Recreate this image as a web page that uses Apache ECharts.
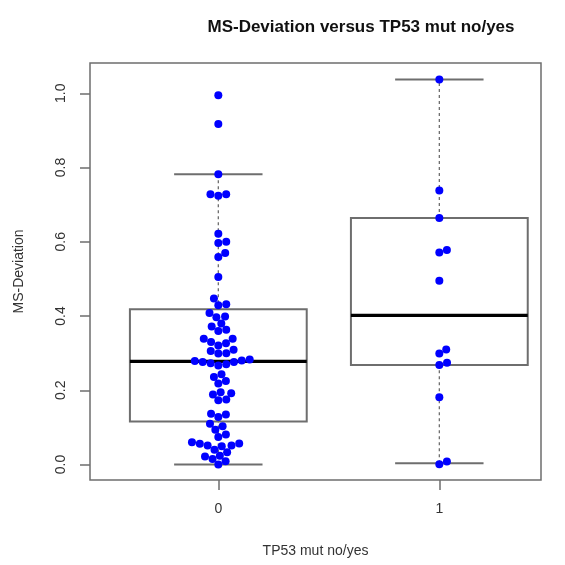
<!DOCTYPE html>
<html><head><meta charset="utf-8">
<script src="https://cdn.jsdelivr.net/npm/echarts@6/dist/echarts.min.js"></script>
<style>html,body{margin:0;padding:0;background:#fff}#c{width:565px;height:565px}</style>
</head><body><div id="c"></div>
<script>
// ---------------- data ----------------
const categories = ['0', '1'];
const groupPositions = [0, 1];
// MS-Deviation values, TP53 mut = no (0)
const msDevNo = [
  0.995, 0.917, 0.782, 0.728, 0.724, 0.728,
  0.622, 0.600, 0.597, 0.570, 0.559, 0.505,
  0.447, 0.432, 0.429,
  0.408, 0.399, 0.397, 0.380, 0.372, 0.363, 0.360,
  0.339, 0.339, 0.330, 0.327, 0.321,
  0.309, 0.306, 0.300, 0.299,
  0.283, 0.2805, 0.279, 0.276, 0.276, 0.273, 0.270, 0.267,
  0.243, 0.236, 0.225, 0.218,
  0.195, 0.192, 0.189, 0.175, 0.173,
  0.137, 0.135, 0.128,
  0.110, 0.103, 0.094, 0.081, 0.074,
  0.060, 0.057, 0.056, 0.051, 0.051, 0.049, 0.040,
  0.033, 0.024, 0.022, 0.015, 0.009, 0.000
];
// MS-Deviation values, TP53 mut = yes (1)
const msDevYes = [1.037, 0.738, 0.664, 0.578, 0.571, 0.495, 0.310, 0.299, 0.274, 0.268, 0.181, 0.008, 0.001];
// boxplot statistics [lower whisker, Q1, median, Q3, upper whisker]
const boxNo  = [0.000, 0.116, 0.278, 0.418, 0.782];
const boxYes = [0.0035, 0.268, 0.402, 0.664, 1.037];
const yTicks = [0, 0.2, 0.4, 0.6, 0.8, 1.0];

const titleText = 'MS-Deviation versus TP53 mut no/yes';
const xName = 'TP53 mut no/yes';
const yName = 'MS-Deviation';

// ---------------- chart ----------------
const FONT = '"Liberation Sans", Arial, sans-serif';
const GREY = '#6e6e6e';
const DOT = 8;
const chart = echarts.init(document.getElementById('c'), null, {renderer: 'canvas'});

const groups = [msDevNo, msDevYes];
const boxes = [boxNo, boxYes];
const boxData = boxes.map((b, i) => [groupPositions[i]].concat(b));

function renderBox(params, api) {
  const x = api.value(0);
  const mn = api.value(1), q1 = api.value(2), md = api.value(3), q3 = api.value(4), mx = api.value(5);
  const hw = 0.4, cw = 0.2;
  const P = (a, b) => api.coord([a, b]);
  const lq = P(x - hw, q1), rq = P(x + hw, q3);
  const line = (a, b, style) => ({type: 'line', shape: {x1: a[0], y1: a[1], x2: b[0], y2: b[1]}, style: style});
  const dash = {stroke: GREY, lineWidth: 1.3, lineDash: [3, 3]};
  const solid = {stroke: GREY, lineWidth: 2};
  return {
    type: 'group',
    children: [
      line(P(x, q3), P(x, mx), dash),
      line(P(x, mn), P(x, q1), dash),
      line(P(x - cw, mx), P(x + cw, mx), solid),
      line(P(x - cw, mn), P(x + cw, mn), solid),
      {type: 'rect', shape: {x: lq[0], y: rq[1], width: rq[0] - lq[0], height: lq[1] - rq[1]},
       style: {fill: 'rgba(0,0,0,0)', stroke: GREY, lineWidth: 2}},
      line(P(x - hw, md), P(x + hw, md), {stroke: '#000', lineWidth: 3.2})
    ]
  };
}

function pointData(offsets) {
  const out = [];
  groups.forEach((vals, g) => vals.forEach((v, i) => {
    out.push([groupPositions[g] + (offsets ? offsets[g][i] : 0), v]);
  }));
  return out;
}

const option = {
  animation: false,
  backgroundColor: '#fff',
  title: {
    text: titleText,
    left: 356, top: 14, textAlign: 'center',
    textStyle: {fontFamily: FONT, fontSize: 17, fontWeight: 'bold', color: '#111'}
  },
  grid: {left: 90, right: 24, top: 63, bottom: 85, show: true, borderColor: GREY, borderWidth: 1.5, backgroundColor: 'transparent'},
  xAxis: {
    type: 'value', min: -0.5806, max: 1.460,
    name: xName, nameLocation: 'middle', nameGap: 64,
    nameTextStyle: {fontFamily: FONT, fontSize: 14, color: '#333'},
    splitLine: {show: false},
    axisLine: {show: false, onZero: false},
    axisTick: {show: true, length: 10, lineStyle: {color: GREY, width: 1.5}, customValues: groupPositions},
    axisLabel: {show: true, margin: 22, fontFamily: FONT, fontSize: 14, color: '#333',
      customValues: groupPositions, formatter: v => categories[groupPositions.indexOf(Math.round(v))]}
  },
  yAxis: {
    type: 'value', min: -0.0416, max: 1.0816,
    name: yName, nameLocation: 'middle', nameGap: 64, nameRotate: 90,
    nameTextStyle: {fontFamily: FONT, fontSize: 14, color: '#333'},
    splitLine: {show: false},
    axisLine: {show: false, onZero: false},
    axisTick: {show: true, length: 10, lineStyle: {color: GREY, width: 1.5}, customValues: yTicks},
    axisLabel: {show: true, rotate: 90, margin: 22, fontFamily: FONT, fontSize: 14, color: '#333',
      customValues: yTicks, formatter: v => v.toFixed(1)}
  },
  series: [
    {type: 'custom', renderItem: renderBox, data: boxData, z: 2, silent: true,
     encode: {x: 0, y: [1, 2, 3, 4, 5]}},
    {type: 'scatter', data: pointData(null), symbol: 'circle', symbolSize: DOT, z: 5,
     itemStyle: {color: '#0000ff', opacity: 1}}
  ]
};
chart.setOption(option);

// beeswarm ("swarm" method) layout computed in pixel space
function swarm(ysPx, D) {
  const order = ysPx.map((_, i) => i).sort((a, b) => ysPx[b] - ysPx[a]);
  const placed = [];
  const off = new Array(ysPx.length).fill(0);
  order.forEach(i => {
    const yi = ysPx[i];
    const near = placed.filter(p => Math.abs(p.y - yi) < D);
    const cands = [0];
    near.forEach(p => cands.push(p.x + Math.sqrt(D * D - (p.y - yi) ** 2)));
    near.forEach(p => cands.push(p.x - Math.sqrt(D * D - (p.y - yi) ** 2)));
    const good = cands.filter(cx => near.every(p => Math.hypot(p.x - cx, p.y - yi) >= D * 0.999));
    let best = good[0];
    good.forEach(g => { if (Math.abs(g) < Math.abs(best)) best = g; });
    off[i] = best;
    placed.push({y: yi, x: best});
  });
  return off;
}
const p0 = chart.convertToPixel({gridIndex: 0}, [0, 0]);
const p1 = chart.convertToPixel({gridIndex: 0}, [1, 0]);
const pxPerUnit = p1[0] - p0[0];
const offsets = groups.map(vals => {
  const ys = vals.map(v => chart.convertToPixel({gridIndex: 0}, [0, v])[1]);
  return swarm(ys, DOT).map(o => o / pxPerUnit);
});
chart.setOption({series: [{}, {data: pointData(offsets)}]});
</script>
</body></html>
